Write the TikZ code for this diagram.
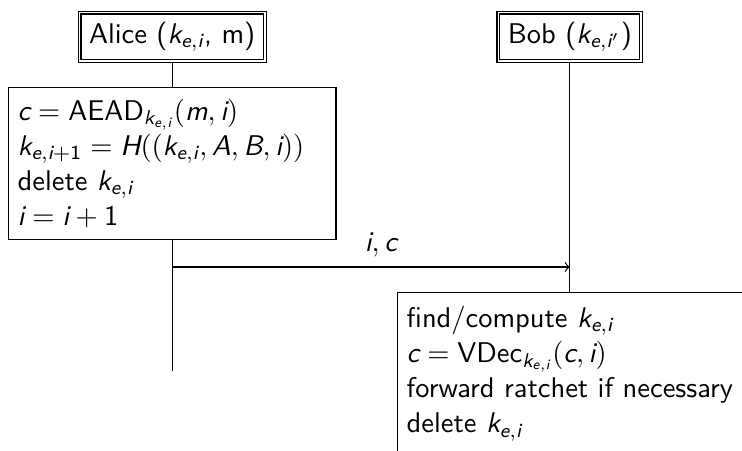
\documentclass[tikz,border=0pt]{standalone}
\usepackage{amsmath}
\newcommand{\sv}[1]{\text{\sffamily\itshape #1}}
\newcommand{\su}[1]{\text{\sffamily\upshape #1}}
\newcommand{\kei}{\sv{k}_{\sv{e},\sv{i}}}
\begin{document}
\begin{tikzpicture}[x=1pt,y=1pt,font=\sffamily\fontsize{10}{12.3}\selectfont,
  actor/.style={draw, double, inner sep=3.33pt, anchor=north},
  actbox/.style={draw, fill=white, align=left, anchor=north, inner xsep=3.33pt, inner ysep=4pt}]
\clip (0,0) rectangle (260.4,-158.2);
\node[actor] (alice) at (60.4,-4.2) {Alice ($\kei$, m)};
\node[actor] (bob) at (200,-4.2) {Bob ($\sv{k}_{\sv{e},\sv{i}'}$)};
\node[actbox, text width=108.4pt] (aact) at (60.4,-30.5) {$\sv{c} = \su{AEAD}_{\kei}(\sv{m},\sv{i})$\\ $\sv{k}_{\sv{e},\sv{i}+\su{1}} = \sv{H}((\kei,\sv{A},\sv{B},\sv{i}))$\\ delete $\kei$\\ $\sv{i} = \sv{i}+\su{1}$};
\coordinate (aend) at (60.4,-130.2);
\coordinate (amsg) at (60.4,-93.7);
\coordinate (bmsg) at (200,-93.7);
\draw (alice) -- (aact);
\draw (aact) -- (aend);
\draw[->] (amsg) -- node[above, pos=0.525] {$\sv{i},\sv{c}$} (bmsg);
\node[actbox, inner ysep=4.8pt] (bact) at (200,-102.5) {find/compute $\kei$\\ $\sv{c} = \su{VDec}_{\kei}(\sv{c},\sv{i})$\\ forward ratchet if necessary\\ delete $\kei$};
\draw (bob) -- (bact);
\end{tikzpicture}
\end{document}
